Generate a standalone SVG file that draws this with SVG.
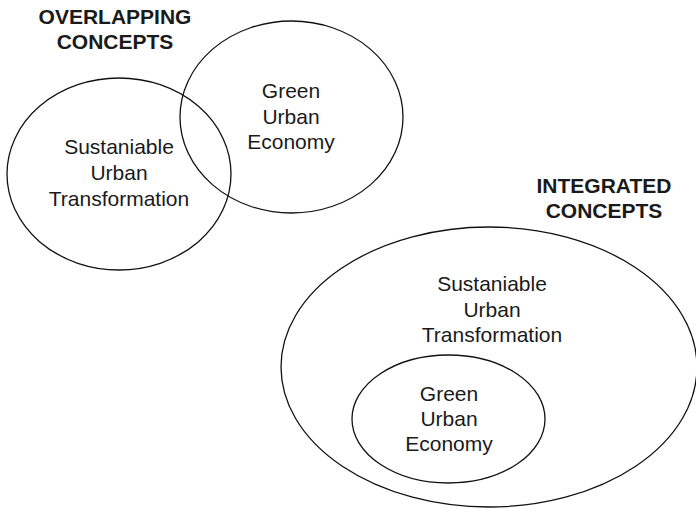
<svg xmlns="http://www.w3.org/2000/svg" width="696" height="509" viewBox="0 0 696 509">
  <style>
    .ring { fill: none; stroke: #111; stroke-width: 1.3; }
    .label { font-family: "Liberation Sans", Arial, sans-serif; font-size: 21px; fill: #1a1a1a; text-anchor: middle; }
    .title { font-family: "Liberation Sans", Arial, sans-serif; font-size: 21px; font-weight: bold; fill: #1a1a1a; text-anchor: middle; }
  </style>
  <rect width="696" height="509" fill="#fff"/>

  <!-- Overlapping concepts -->
  <g id="title-overlapping">
    <text class="title" x="115" y="24">OVERLAPPING</text>
    <text class="title" x="115" y="49">CONCEPTS</text>
  </g>
  <g id="overlap-sut">
    <ellipse class="ring" cx="119" cy="174" rx="112" ry="96"/>
    <text class="label" x="119" y="154">Sustaniable</text>
    <text class="label" x="119" y="180">Urban</text>
    <text class="label" x="119" y="205.5">Transformation</text>
  </g>
  <g id="overlap-gue">
    <ellipse class="ring" cx="291.5" cy="117" rx="111.5" ry="96"/>
    <text class="label" x="291" y="98">Green</text>
    <text class="label" x="291" y="124">Urban</text>
    <text class="label" x="291" y="149">Economy</text>
  </g>

  <!-- Integrated concepts -->
  <g id="title-integrated">
    <text class="title" x="604" y="193">INTEGRATED</text>
    <text class="title" x="604" y="218">CONCEPTS</text>
  </g>
  <g id="integrated-sut">
    <ellipse class="ring" cx="489" cy="367" rx="208" ry="140"/>
    <text class="label" x="492" y="291">Sustaniable</text>
    <text class="label" x="492" y="317">Urban</text>
    <text class="label" x="492" y="342">Transformation</text>
  </g>
  <g id="integrated-gue">
    <ellipse class="ring" cx="448.5" cy="419" rx="96.5" ry="64"/>
    <text class="label" x="449" y="401">Green</text>
    <text class="label" x="449" y="426">Urban</text>
    <text class="label" x="449" y="451">Economy</text>
  </g>

  <g id="connectors"></g>
</svg>
